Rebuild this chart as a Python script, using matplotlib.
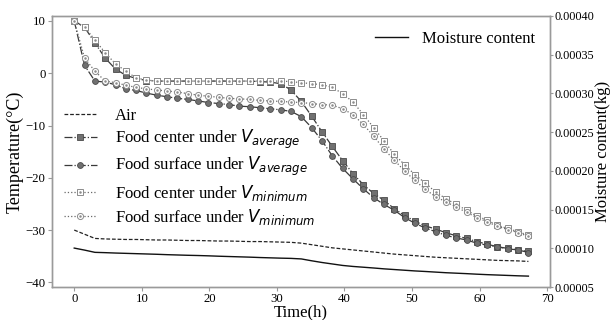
import matplotlib
matplotlib.use("Agg")
import matplotlib.pyplot as plt

# sampling times (h)
time_h = [0, 1.53, 3.06, 4.58, 6.11, 7.64, 9.17, 10.69, 12.22, 13.75, 15.28,
          16.81, 18.33, 19.86, 21.39, 22.92, 24.44, 25.97, 27.5, 29.03, 30.56,
          32.08, 33.61, 35.14, 36.67, 38.19, 39.72, 41.25, 42.78, 44.31, 45.83,
          47.36, 48.89, 50.42, 51.94, 53.47, 55, 56.53, 58.06, 59.58, 61.11,
          62.64, 64.17, 65.69, 67.22]

air = [-30.0, -30.8, -31.6, -31.7, -31.75, -31.8, -31.8, -31.85, -31.9, -31.9,
       -31.95, -32.0, -32.0, -32.05, -32.1, -32.1, -32.15, -32.2, -32.2, -32.25,
       -32.3, -32.35, -32.5, -32.8, -33.1, -33.4, -33.6, -33.8, -34.0, -34.2,
       -34.4, -34.6, -34.75, -34.9, -35.05, -35.2, -35.3, -35.4, -35.5, -35.6,
       -35.7, -35.8, -35.85, -35.9, -36.0]

center_avg = [10.0, 8.8, 5.8, 2.9, 0.8, -0.4, -1.0, -1.4, -1.5, -1.5, -1.5,
              -1.5, -1.5, -1.5, -1.5, -1.5, -1.5, -1.5, -1.6, -1.7, -2.0, -3.2,
              -5.4, -8.2, -11.2, -14.0, -16.7, -19.2, -21.3, -23.0, -24.3,
              -25.9, -27.2, -28.3, -29.2, -29.8, -30.5, -31.1, -31.6, -32.2,
              -32.7, -33.2, -33.5, -33.8, -34.1]

surface_avg = [10.0, 1.5, -1.5, -1.7, -2.2, -3.0, -3.3, -3.8, -4.2, -4.5, -4.8,
               -5.0, -5.3, -5.6, -5.8, -6.0, -6.3, -6.4, -6.6, -6.8, -7.0, -7.3,
               -8.3, -10.4, -12.9, -15.8, -18.2, -20.2, -22.1, -23.8, -25.1,
               -26.2, -27.6, -28.7, -29.6, -30.3, -31.0, -31.5, -31.9, -32.5,
               -32.9, -33.2, -33.6, -33.8, -34.3]

center_min = [10.0, 8.8, 6.4, 3.9, 1.8, 0.4, -0.9, -1.3, -1.5, -1.5, -1.5,
              -1.5, -1.5, -1.5, -1.5, -1.5, -1.5, -1.5, -1.5, -1.5, -1.5, -1.6,
              -1.8, -2.0, -2.2, -2.7, -3.9, -5.5, -7.9, -10.4, -12.9, -15.5,
              -17.5, -19.4, -21.0, -22.7, -24.0, -25.1, -26.2, -27.3, -28.1,
              -29.1, -29.7, -30.3, -31.0]

surface_min = [10.0, 2.9, 0.4, -1.5, -1.8, -2.3, -2.7, -3.0, -3.2, -3.4, -3.6,
               -3.9, -4.2, -4.4, -4.6, -4.8, -4.9, -5.0, -5.2, -5.3, -5.4, -5.5,
               -5.6, -5.8, -6.0, -6.1, -6.8, -7.9, -9.8, -12.0, -14.5, -16.6,
               -18.7, -20.5, -22.2, -23.6, -24.6, -25.6, -26.6, -27.6, -28.4,
               -29.3, -29.9, -30.5, -31.2]

# moisture content (kg), right axis
moisture = [10.03e-5, 9.77e-5, 9.48e-5, 9.44e-5, 9.39e-5, 9.35e-5, 9.31e-5,
            9.27e-5, 9.23e-5, 9.18e-5, 9.14e-5, 9.10e-5, 9.07e-5, 9.03e-5,
            8.98e-5, 8.94e-5, 8.90e-5, 8.86e-5, 8.81e-5, 8.77e-5, 8.73e-5,
            8.70e-5, 8.63e-5, 8.39e-5, 8.17e-5, 7.98e-5, 7.79e-5, 7.66e-5,
            7.56e-5, 7.46e-5, 7.35e-5, 7.26e-5, 7.17e-5, 7.08e-5, 7.01e-5,
            6.93e-5, 6.85e-5, 6.79e-5, 6.73e-5, 6.66e-5, 6.60e-5, 6.55e-5,
            6.50e-5, 6.45e-5, 6.41e-5]

plt.rcParams['font.family'] = ['Liberation Serif', 'DejaVu Serif']
plt.rcParams['mathtext.fontset'] = 'dejavusans'

fig = plt.figure(figsize=(6.11, 3.2), dpi=100)
ax = fig.add_axes([0.085, 0.103, 0.815, 0.847])
ax2 = ax.twinx()

spine_col = '#9a9a9a'
dark_face = '#707070'
dark_edge = '#4a4a4a'
light_edge = '#8c8c8c'

l_air, = ax.plot(time_h, air, linestyle=(0, (3, 1.5)), color='#222222', lw=0.9)
l_ca, = ax.plot(time_h, center_avg, linestyle='-.', color='#3a3a3a', lw=0.9,
                marker='s', ms=4.2, mfc=dark_face, mec=dark_edge, mew=0.6)
l_sa, = ax.plot(time_h, surface_avg, linestyle='-.', color='#3a3a3a', lw=0.9,
                marker='o', ms=4.2, mfc=dark_face, mec=dark_edge, mew=0.6)
l_cm, = ax.plot(time_h, center_min, linestyle=':', color='#6a6a6a', lw=0.9,
                marker='s', ms=4.4, mfc='white', mec=light_edge, mew=0.7)
d_cm, = ax.plot(time_h, center_min, linestyle='none', marker='.', ms=1.6,
                color=light_edge)
l_sm, = ax.plot(time_h, surface_min, linestyle=':', color='#6a6a6a', lw=0.9,
                marker='o', ms=4.4, mfc='white', mec=light_edge, mew=0.7)
d_sm, = ax.plot(time_h, surface_min, linestyle='none', marker='.', ms=1.6,
                color=light_edge)

l_m, = ax2.plot(time_h, moisture, color='#111111', lw=1.0)

ax.set_xlim(-3.3, 70.4)
ax.set_ylim(-40.9, 10.95)
ax2.set_ylim(0.00005, 0.0004)
ax.set_xticks([0, 10, 20, 30, 40, 50, 60, 70])
ax.set_yticks([-40, -30, -20, -10, 0, 10])
ax2.set_yticks([0.00005, 0.0001, 0.00015, 0.0002, 0.00025, 0.0003, 0.00035, 0.0004])
ax2.set_yticklabels(['0.00005', '0.00010', '0.00015', '0.00020', '0.00025',
                     '0.00030', '0.00035', '0.00040'])

for a in (ax, ax2):
    for s in a.spines.values():
        s.set_color(spine_col)
        s.set_linewidth(1.0)
    a.tick_params(labelsize=9.2, color=spine_col, length=3, width=0.8, pad=1.5)
ax2.tick_params(labelsize=8.8, length=2.5, pad=1)
ax.tick_params(axis='x', pad=1)

ax.set_xlabel('Time(h)', fontsize=12, labelpad=-0.5)
ax.set_ylabel('Temperature(°C)', fontsize=13, labelpad=1)
ax2.set_ylabel('Moisture content(kg)', fontsize=12, labelpad=0)

leg1 = ax.legend([l_air, l_ca, l_sa, (l_cm, d_cm), (l_sm, d_sm)],
                 ['Air',
                  r'Food center under $V_{average}$',
                  r'Food surface under $V_{average}$',
                  r'Food center under $V_{minimum}$',
                  r'Food surface under $V_{minimum}$'],
                 loc='upper left', bbox_to_anchor=(0.0, 0.705), frameon=False,
                 fontsize=12, handlelength=2.0, handletextpad=1.1,
                 labelspacing=0.25, borderaxespad=0.3)
ax2.legend([l_m], ['Moisture content'], loc='upper right',
           bbox_to_anchor=(1.0, 1.0), frameon=False, fontsize=12,
           handlelength=2.0, handletextpad=0.8)

fig.savefig('out.png', dpi=100)
